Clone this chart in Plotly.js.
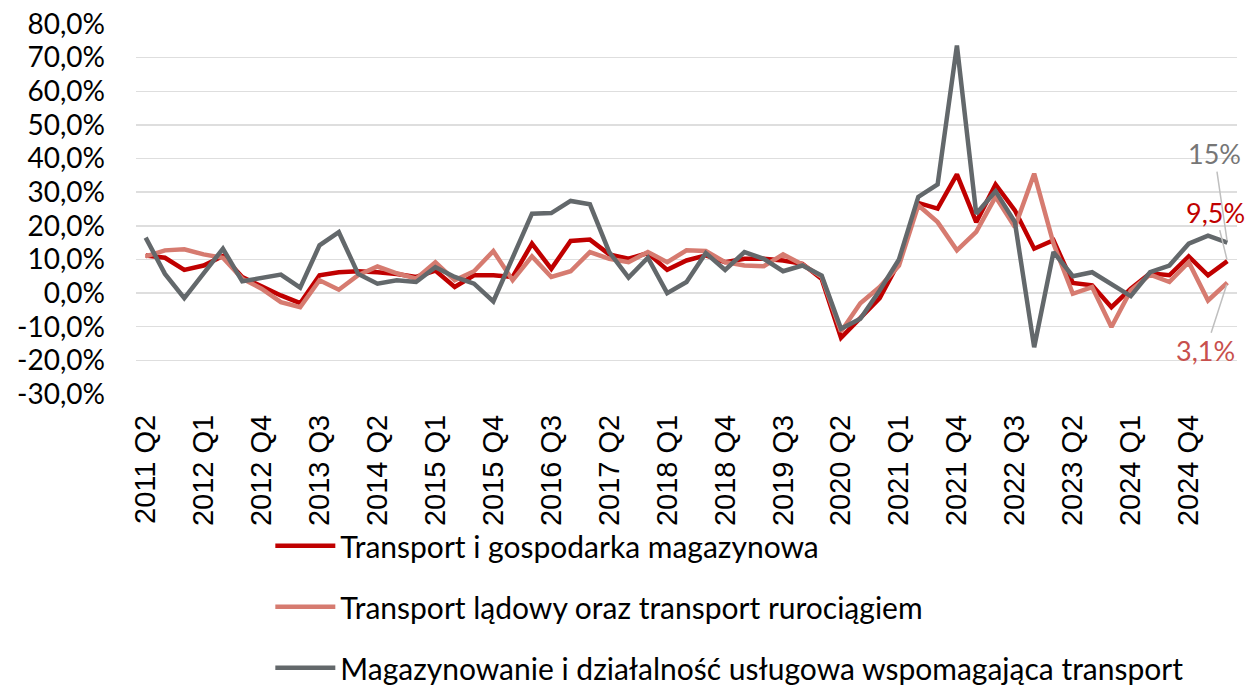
<!DOCTYPE html>
<html>
<head>
<meta charset="utf-8">
<script src="https://cdn.plot.ly/plotly-3.0.1.min.js"></script>
<style>html,body{margin:0;padding:0;background:#fff;}#chart{width:1246px;height:685px;}</style>
</head>
<body>
<div id="chart"></div>
<script>
var categories = [
  "2011 Q2","2011 Q3","2011 Q4",
  "2012 Q1","2012 Q2","2012 Q3","2012 Q4",
  "2013 Q1","2013 Q2","2013 Q3","2013 Q4",
  "2014 Q1","2014 Q2","2014 Q3","2014 Q4",
  "2015 Q1","2015 Q2","2015 Q3","2015 Q4",
  "2016 Q1","2016 Q2","2016 Q3","2016 Q4",
  "2017 Q1","2017 Q2","2017 Q3","2017 Q4",
  "2018 Q1","2018 Q2","2018 Q3","2018 Q4",
  "2019 Q1","2019 Q2","2019 Q3","2019 Q4",
  "2020 Q1","2020 Q2","2020 Q3","2020 Q4",
  "2021 Q1","2021 Q2","2021 Q3","2021 Q4",
  "2022 Q1","2022 Q2","2022 Q3","2022 Q4",
  "2023 Q1","2023 Q2","2023 Q3","2023 Q4",
  "2024 Q1","2024 Q2","2024 Q3","2024 Q4",
  "2025 Q1","2025 Q2"
];
var tickLabels = ["2011 Q2","2012 Q1","2012 Q4","2013 Q3","2014 Q2","2015 Q1","2015 Q4","2016 Q3","2017 Q2","2018 Q1","2018 Q4","2019 Q3","2020 Q2","2021 Q1","2021 Q4","2022 Q3","2023 Q2","2024 Q1","2024 Q4"];

var seriesNames = [
  "Transport i gospodarka magazynowa",
  "Transport lądowy oraz transport rurociągiem",
  "Magazynowanie i działalność usługowa wspomagająca transport"
];

var transportTotal = [
  11.2, 10.5, 6.9, 8.2, 11.0, 4.8, 2.0, -0.7, -3.0, 5.3,
  6.2, 6.5, 6.2, 5.7, 4.8, 6.7, 1.8, 5.3, 5.3, 4.8,
  14.7, 7.2, 15.5, 15.9, 11.5, 10.2, 11.9, 6.9, 9.7, 11.2,
  9.2, 10.2, 10.2, 9.7, 8.7, 4.2, -13.3, -7.5, -1.5, 9.2,
  26.8, 25.1, 35.3, 21.1, 32.3, 24.6, 13.2, 15.7, 3.0, 2.3,
  -4.2, 1.3, 5.9, 5.3, 10.9, 5.3, 9.5
];
var landTransport = [
  10.9, 12.7, 13.0, 11.5, 10.5, 4.3, 1.3, -2.7, -4.2, 3.8,
  1.0, 5.3, 7.9, 5.9, 4.3, 9.2, 3.8, 6.5, 12.5, 3.8,
  10.9, 4.8, 6.5, 12.2, 10.2, 9.2, 12.2, 9.2, 12.7, 12.5,
  9.2, 8.2, 8.0, 11.5, 8.5, 4.8, -11.4, -3.0, 1.8, 8.2,
  26.1, 21.1, 12.7, 18.2, 28.6, 19.6, 35.5, 14.7, -0.2, 1.8,
  -10.1, 0.8, 5.5, 3.3, 9.2, -2.2, 3.1
];
var warehousing = [
  16.5, 5.7, -1.5, 6.0, 13.2, 3.5, 4.5, 5.5, 1.6, 14.2,
  18.1, 5.7, 2.8, 3.8, 3.3, 7.7, 4.8, 2.8, -2.5, 10.5,
  23.6, 23.8, 27.4, 26.4, 12.2, 4.6, 10.5, 0.0, 3.3, 11.9,
  6.9, 12.2, 10.2, 6.5, 8.2, 5.2, -10.6, -7.6, 0.8, 10.0,
  28.6, 32.3, 73.6, 23.6, 30.3, 21.1, -16.1, 12.2, 5.0, 6.2,
  2.6, -0.9, 6.2, 8.2, 14.7, 17.1, 15.0
];
var endLabels = ["9,5%", "3,1%", "15%"];

var colors = ["#C00000", "#D67B70", "#63686B"];
var seriesData = [transportTotal, landTransport, warehousing];

var traces = seriesData.map(function (vals, k) {
  return {
    x: categories,
    y: vals,
    type: "scatter",
    mode: "lines",
    name: seriesNames[k],
    legendgroup: "g" + k,
    line: {color: colors[k], width: 4.5},
    hoverinfo: "skip"
  };
});

var last = categories[categories.length - 1];
var n = categories.length - 1;
var annotations = [
  {x: last, y: warehousing[n], text: endLabels[2], showarrow: true, arrowhead: 0, arrowwidth: 1.5,
   arrowcolor: "#BFBFBF", ax: -13, ay: -89, standoff: 2, font: {family: "Lato, sans-serif", size: 27, color: "#767676"}},
  {x: last, y: transportTotal[n], text: endLabels[0], showarrow: true, arrowhead: 0, arrowwidth: 1.5,
   arrowcolor: "#BFBFBF", ax: -12, ay: -49, standoff: 2, font: {family: "Lato, sans-serif", size: 27, color: "#C00000"}},
  {x: last, y: landTransport[n], text: endLabels[1], showarrow: true, arrowhead: 0, arrowwidth: 1.5,
   arrowcolor: "#BFBFBF", ax: -22, ay: 68, standoff: 2, font: {family: "Lato, sans-serif", size: 27, color: "#C8504D"}}
];

var layout = {
  width: 1246,
  height: 685,
  margin: {l: 136, r: 9, t: 24, b: 291, pad: 0, autoexpand: false},
  paper_bgcolor: "#FFFFFF",
  plot_bgcolor: "#FFFFFF",
  showlegend: true,
  legend: {
    orientation: "v",
    x: 0.122, xanchor: "left",
    y: -0.34, yanchor: "top",
    font: {family: "Lato, sans-serif", size: 30, color: "#000000"},
    tracegroupgap: 19,
    itemwidth: 60,
    maxheight: 2000,
    bgcolor: "rgba(0,0,0,0)"
  },
  xaxis: {
    type: "category",
    range: [-0.5, categories.length - 0.5],
    tickvals: tickLabels,
    ticktext: tickLabels,
    tickangle: -90,
    tickfont: {family: "Liberation Sans, Arial, sans-serif", size: 29, color: "#000000"},
    showgrid: false,
    zeroline: false,
    showline: false,
    ticks: "",
    ticklabelstandoff: 14,
    automargin: false,
    fixedrange: true
  },
  yaxis: {
    range: [-30, 80],
    tickvals: [-30, -20, -10, 0, 10, 20, 30, 40, 50, 60, 70, 80],
    ticktext: ["-30,0%", "-20,0%", "-10,0%", "0,0%", "10,0%", "20,0%", "30,0%", "40,0%", "50,0%", "60,0%", "70,0%", "80,0%"],
    tickfont: {family: "Lato, sans-serif", size: 28, color: "#000000"},
    showgrid: true,
    gridcolor: "#DEDEDE",
    gridwidth: 1.5,
    zeroline: false,
    showline: false,
    ticks: "",
    ticklabelstandoff: 30,
    automargin: false,
    fixedrange: true
  },
  annotations: annotations
};

Plotly.newPlot("chart", traces, layout, {displayModeBar: false, staticPlot: true});
</script>
</body>
</html>
